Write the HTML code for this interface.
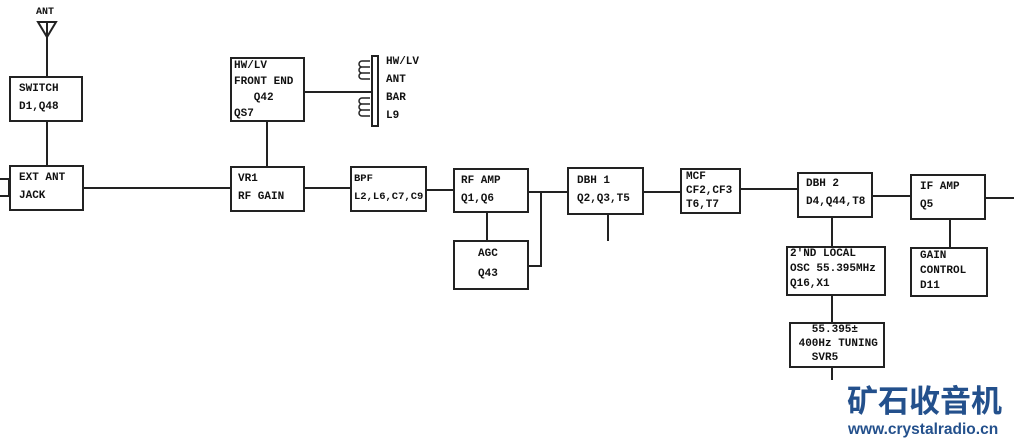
<!DOCTYPE html>
<html><head><meta charset="utf-8"><style>
body{margin:0;background:#fff;width:1014px;height:442px;overflow:hidden;position:relative;font-family:"Liberation Mono",monospace;font-weight:bold;font-size:11px;color:#111}
.b{position:absolute;border:2px solid #222;box-sizing:border-box;background:#fff}
.t{position:absolute;line-height:18px;white-space:pre}
.h{position:absolute;height:2px;background:#222}
.v{position:absolute;width:2px;background:#222}
</style></head><body>
<div class="v" style="left:46px;top:36px;height:40px"></div>
<div class="v" style="left:46px;top:122px;height:44px"></div>
<div class="h" style="left:83px;top:187px;width:148px"></div>
<div class="v" style="left:266px;top:121px;height:46px"></div>
<div class="h" style="left:304px;top:91px;width:68px"></div>
<div class="h" style="left:304px;top:187px;width:47px"></div>
<div class="h" style="left:426px;top:189px;width:28px"></div>
<div class="v" style="left:486px;top:212px;height:29px"></div>
<div class="h" style="left:528px;top:191px;width:40px"></div>
<div class="v" style="left:540px;top:191px;height:76px"></div>
<div class="h" style="left:528px;top:265px;width:13px"></div>
<div class="v" style="left:607px;top:214px;height:27px"></div>
<div class="h" style="left:643px;top:191px;width:38px"></div>
<div class="h" style="left:740px;top:188px;width:58px"></div>
<div class="h" style="left:872px;top:195px;width:39px"></div>
<div class="h" style="left:985px;top:197px;width:29px"></div>
<div class="v" style="left:831px;top:217px;height:30px"></div>
<div class="v" style="left:831px;top:295px;height:28px"></div>
<div class="v" style="left:831px;top:367px;height:13px"></div>
<div class="v" style="left:949px;top:219px;height:29px"></div>
<svg style="position:absolute;left:36px;top:20px" width="22" height="20"><polygon points="2,2 20,2 11,17" fill="none" stroke="#222" stroke-width="2"/><line x1="11" y1="2" x2="11" y2="18" stroke="#222" stroke-width="2"/></svg>
<div class="t" style="left:36px;top:4px;font-size:10px">ANT</div>
<div class="b" style="left:-2px;top:178px;width:12px;height:19px"></div>
<div class="b" style="left:371px;top:55px;width:8px;height:72px"></div>
<svg style="position:absolute;left:358px;top:58px" width="14" height="64"><g fill="none" stroke="#222" stroke-width="1.5"><path d="M12,3 h-8 a3,3 0 0 0 0,6 h8 M4,9 a3,3 0 0 0 0,6 h8 M4,15 a3,3 0 0 0 0,6 h8"/><path d="M12,40 h-8 a3,3 0 0 0 0,6 h8 M4,46 a3,3 0 0 0 0,6 h8 M4,52 a3,3 0 0 0 0,6 h8"/></g></svg>
<div class="t" style="left:386px;top:53px">HW/LV
ANT
BAR
L9</div>
<div class="b" style="left:9px;top:76px;width:74px;height:46px"></div>
<div class="t" style="left:19px;top:80px">SWITCH
D1,Q48</div>
<div class="b" style="left:9px;top:165px;width:75px;height:46px"></div>
<div class="t" style="left:19px;top:169px">EXT ANT
JACK</div>
<div class="b" style="left:230px;top:57px;width:75px;height:65px"></div>
<div class="t" style="left:234px;top:58px;line-height:16px">HW/LV
FRONT END
   Q42
QS7</div>
<div class="b" style="left:230px;top:166px;width:75px;height:46px"></div>
<div class="t" style="left:238px;top:170px">VR1
RF GAIN</div>
<div class="b" style="left:350px;top:166px;width:77px;height:46px"></div>
<div class="t" style="left:354px;top:170px;font-size:10.5px">BPF
L2,L6,C7,C9</div>
<div class="b" style="left:453px;top:168px;width:76px;height:45px"></div>
<div class="t" style="left:461px;top:172px">RF AMP
Q1,Q6</div>
<div class="b" style="left:453px;top:240px;width:76px;height:50px"></div>
<div class="t" style="left:478px;top:244px;line-height:20px">AGC
Q43</div>
<div class="b" style="left:567px;top:167px;width:77px;height:48px"></div>
<div class="t" style="left:577px;top:172px">DBH 1
Q2,Q3,T5</div>
<div class="b" style="left:680px;top:168px;width:61px;height:46px"></div>
<div class="t" style="left:686px;top:170px;line-height:14px">MCF
CF2,CF3
T6,T7</div>
<div class="b" style="left:797px;top:172px;width:76px;height:46px"></div>
<div class="t" style="left:806px;top:175px">DBH 2
D4,Q44,T8</div>
<div class="b" style="left:910px;top:174px;width:76px;height:46px"></div>
<div class="t" style="left:920px;top:178px">IF AMP
Q5</div>
<div class="b" style="left:786px;top:246px;width:100px;height:50px"></div>
<div class="t" style="left:790px;top:247px;line-height:15px">2'ND LOCAL
OSC 55.395MHz
Q16,X1</div>
<div class="b" style="left:910px;top:247px;width:78px;height:50px"></div>
<div class="t" style="left:920px;top:249px;line-height:15px">GAIN
CONTROL
D11</div>
<div class="b" style="left:789px;top:322px;width:96px;height:46px"></div>
<div class="t" style="left:792px;top:323px;line-height:14px">   55.395±
 400Hz TUNING
   SVR5</div>
<div style="position:absolute;left:847px;top:380px;white-space:nowrap;font-family:'Noto Sans CJK SC',sans-serif;font-weight:bold;font-size:31px;color:#23508c;line-height:38px">矿石收音机</div>
<div style="position:absolute;left:848px;top:421px;white-space:nowrap;font-family:'Liberation Sans',sans-serif;font-weight:bold;font-size:15.5px;color:#23508c;line-height:18px">www.crystalradio.cn</div>
</body></html>
